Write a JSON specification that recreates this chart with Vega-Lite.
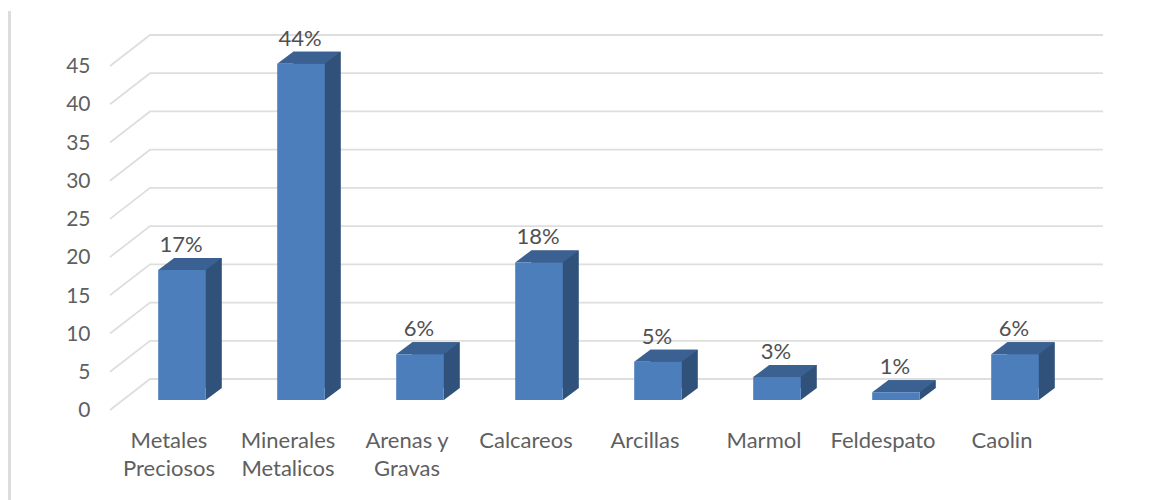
{"$schema":"https://vega.github.io/schema/vega-lite/v6.json","autosize":"none","padding":{"left":110,"top":56,"right":58,"bottom":100},"width":993,"height":344,"background":"#ffffff","view":{"stroke":null},"config":{"font":"Lato"},"datasets":{"bars":[{"categoria":"Metales Preciosos","valor":17,"pct":"17%"},{"categoria":"Minerales Metalicos","valor":44,"pct":"44%"},{"categoria":"Arenas y Gravas","valor":6,"pct":"6%"},{"categoria":"Calcareos","valor":18,"pct":"18%"},{"categoria":"Arcillas","valor":5,"pct":"5%"},{"categoria":"Marmol","valor":3,"pct":"3%"},{"categoria":"Feldespato","valor":1,"pct":"1%"},{"categoria":"Caolin","valor":6,"pct":"6%"}],"ticks":[{"valor":0},{"valor":5},{"valor":10},{"valor":15},{"valor":20},{"valor":25},{"valor":30},{"valor":35},{"valor":40},{"valor":45}]},"data":{"name":"bars"},"encoding":{"x":{"field":"categoria","type":"nominal","sort":null,"title":null,"scale":{"type":"band","range":[12.5,964.5],"paddingInner":0.6,"paddingOuter":0.3},"axis":{"domain":false,"ticks":false,"labelAngle":0,"labelAlign":"center","labelOffset":-13,"labelPadding":30,"labelFontSize":22,"labelColor":"#5f5f5f","labelFont":"Lato","labelLineHeight":28,"labelLimit":300,"labelExpr":"datum.label=='Arenas y Gravas'?['Arenas y','Gravas']:split(datum.label,' ')"}},"y":{"field":"valor","type":"quantitative","title":null,"stack":null,"scale":{"domain":[0,45],"nice":false,"zero":true},"axis":{"values":[0,5,10,15,20,25,30,35,40,45],"domain":false,"ticks":false,"grid":false,"labelPadding":20,"labelOffset":10.7,"labelFontSize":21,"labelColor":"#5f5f5f","labelFont":"Lato"}}},"layer":[{"data":{"name":"ticks"},"mark":{"type":"point","filled":false,"size":4,"stroke":"#dedede","strokeWidth":1.8,"opacity":1,"shape":"M0,10L40,-21L993,-21"},"encoding":{"x":{"value":0}}},{"mark":{"type":"bar","color":"#30517a","xOffset":16,"yOffset":-12,"y2Offset":-12},"encoding":{"y2":{"datum":0}}},{"mark":{"type":"point","filled":true,"size":4,"opacity":1,"color":"#30517a","shape":"M23.8,0L23.8,-12L39.8,-12Z"},"encoding":{"y":{"datum":0}}},{"mark":{"type":"point","filled":true,"size":4,"opacity":1,"color":"#3a6191","shape":"M-23.8,0L-7.8,-12L39.8,-12L23.8,0Z"}},{"mark":{"type":"bar","color":"#4d7ebc"},"encoding":{"y2":{"datum":0}}},{"mark":{"type":"text","font":"Lato","fontSize":22,"color":"#505050","baseline":"middle","yOffset":-25,"xOffset":-1},"encoding":{"text":{"field":"pct"}}},{"mark":{"type":"rule","color":"#dcdcdc","strokeWidth":2.5},"encoding":{"x":{"value":-100.5},"y":{"value":-45},"y2":{"value":444}}}]}
